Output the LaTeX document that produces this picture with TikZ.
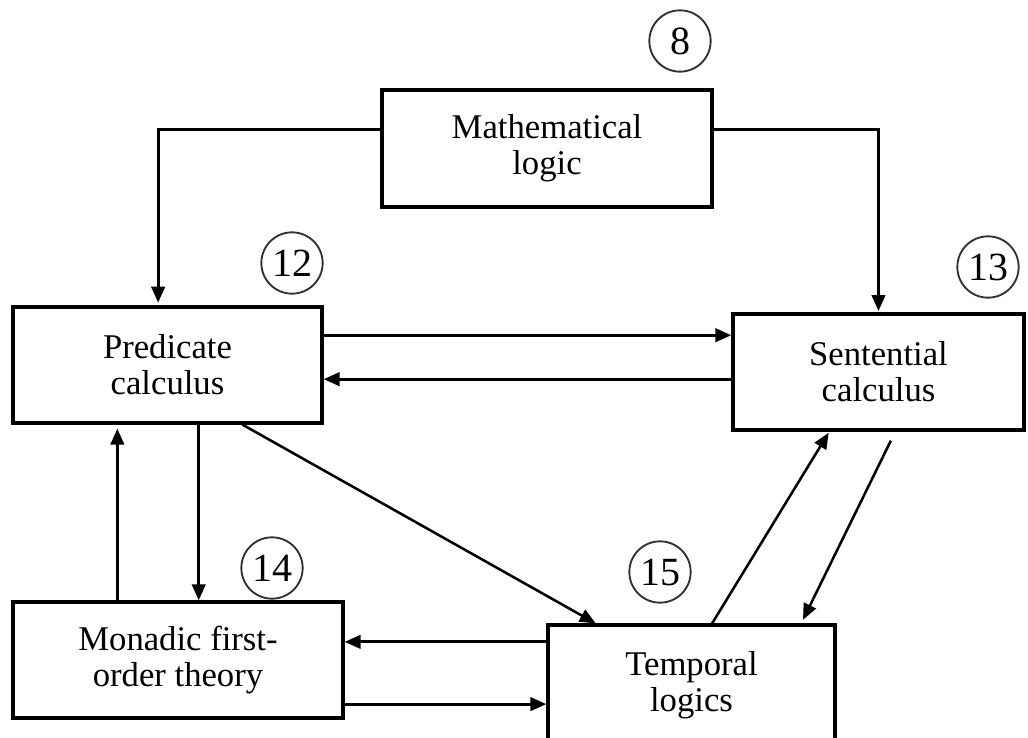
\documentclass[tikz,border=0pt]{standalone}
\usepackage{fontspec}
\setmainfont{Liberation Serif}
\usetikzlibrary{arrows.meta,calc}
\tikzset{
  box/.style={draw, line width=2.4pt, rectangle, align=center, inner sep=0pt,
    font=\fontsize{26}{27}\selectfont},
  num/.style={draw=black!80, circle, line width=1.4pt, minimum size=46pt, inner sep=0pt,
    font=\fontsize{30}{30}\selectfont},
  conn/.style={line width=2.3pt, -{Triangle[length=12pt,width=10pt]}},
  diag/.style={line width=1.9pt, -{Triangle[length=12pt,width=10pt]}},
}
\begin{document}
\begin{tikzpicture}[x=0.75pt,y=-0.75pt]
\useasboundingbox (0,0) rectangle (1028,738);
\clip (0,0) rectangle (1028,738);
\fill[white] (0,0) rectangle (1028,738);

\node[box, minimum width=247.5pt, minimum height=87.75pt] (math) at (547,148.5) {Mathematical\\logic};
\node[box, minimum width=231.75pt, minimum height=87pt] (pred) at (167.5,365) {Predicate\\calculus};
\node[box, minimum width=218.25pt, minimum height=87pt] (sent) at (878.5,372) {Sentential\\calculus};
\node[box, minimum width=247.5pt, minimum height=87pt] (mon) at (178,660) {Monadic first-\\order theory};
\node[box, minimum width=215.25pt, minimum height=90pt] (temp) at (691.5,685) {Temporal\\logics};

\node[num] (n8) at (680,41) {8};
\node[num] (n12) at (292,263) {12};
\node[num] (n13) at (988,267) {13};
\node[num] (n14) at (272,568) {14};
\node[num] (n15) at (660,572) {15};

\coordinate (mL) at ($(math.north west)!0.34!(math.south west)$);
\coordinate (mR) at ($(math.north east)!0.34!(math.south east)$);
\coordinate (pT) at ($(pred.north west)!0.47!(pred.north east)$);
\draw[conn, shorten >=2pt] (mL) -| (pT);
\draw[conn, shorten >=1pt] (mR) -| (sent.north);

\coordinate (pE1) at ($(pred.north east)!0.25!(pred.south east)$);
\draw[conn] (pE1) -- (pE1 -| sent.west);
\coordinate (sW2) at ($(sent.north west)!0.56!(sent.south west)$);
\draw[conn] (sW2) -- (sW2 -| pred.east);

\coordinate (pB3) at ($(pred.south west)!0.74!(pred.south east)$);
\coordinate (tT1) at ($(temp.north west)!0.17!(temp.north east)$);
\draw[diag] (pB3) -- (tT1);

\coordinate (pB2) at ($(pred.south west)!0.6!(pred.south east)$);
\draw[conn] (pB2) -- (pB2 |- mon.north);
\coordinate (mT1) at ($(mon.north west)!0.318!(mon.north east)$);
\draw[conn, shorten >=3pt] (mT1) -- (mT1 |- pred.south);

\coordinate (tW1) at ($(temp.north west)!0.15!(temp.south west)$);
\draw[conn] (tW1) -- (tW1 -| mon.east);
\coordinate (mE2) at ($(mon.north east)!0.87!(mon.south east)$);
\draw[conn] (mE2) -- (mE2 -| temp.west);

\coordinate (tT2) at ($(temp.north west)!0.571!(temp.north east)$);
\coordinate (sB1) at ($(sent.south west)!0.333!(sent.south east)$);
\draw[diag, shorten >=1pt] (tT2) -- (sB1);
\coordinate (sB2) at ($(sent.south west)!0.557!(sent.south east)$);
\coordinate (tT3) at ($(temp.north west)!0.878!(temp.north east)$);
\draw[diag, shorten <=7.5pt, shorten >=3pt] (sB2) -- (tT3);
\end{tikzpicture}
\end{document}
